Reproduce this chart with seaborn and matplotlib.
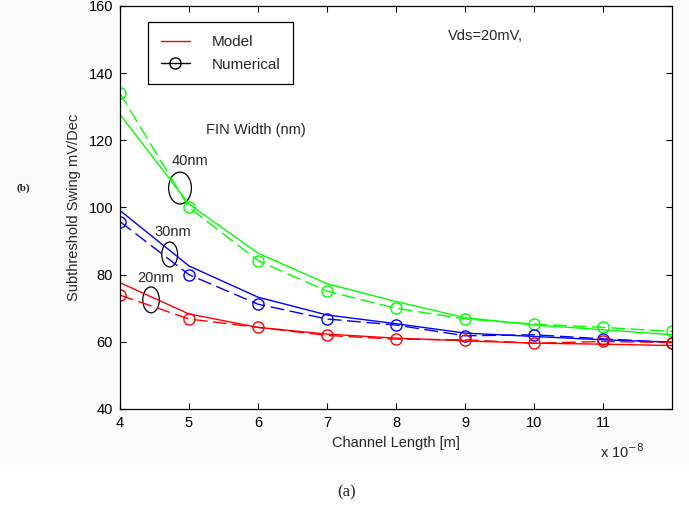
import matplotlib
matplotlib.use("Agg")
import matplotlib.pyplot as plt
from matplotlib.lines import Line2D
from matplotlib.patches import Ellipse, Rectangle
import numpy as np
import pandas as pd
import seaborn as sns

# ---- data (channel length in units of 1e-8 m) ----
length = [4, 5, 6, 7, 8, 9, 10, 11, 12]

model_40 = [127.7, 101.0, 86.4, 77.3, 72.0, 67.2, 65.0, 63.6, 62.1]
model_30 = [99.1, 82.6, 73.3, 68.0, 65.4, 62.6, 61.6, 60.6, 59.9]
model_20 = [77.6, 68.3, 64.3, 62.3, 61.1, 60.3, 59.6, 59.3, 58.9]

num_40 = [134.0, 100.0, 84.2, 75.1, 70.0, 66.8, 65.3, 64.3, 63.1]
num_30 = [95.8, 80.0, 71.2, 66.8, 65.0, 61.8, 62.1, 60.9, 59.8]
num_20 = [73.9, 66.8, 64.3, 61.9, 60.8, 60.6, 59.6, 60.1, 59.8]

series_names = ["40nm", "30nm", "20nm"]
series_colors = ["#00ff00", "#0000ff", "#ff0000"]

x_ticks = [4, 5, 6, 7, 8, 9, 10, 11]
y_ticks = [40, 60, 80, 100, 120, 140, 160]

sns.set_style("ticks")
plt.rcParams["font.family"] = ["Liberation Sans", "DejaVu Sans"]
FS = 10.5

fig = plt.figure(figsize=(6.89, 5.18), dpi=100)
fig.patch.set_facecolor("white")
fig.patches.append(Rectangle((0, 1 - 465 / 518), 1, 465 / 518, transform=fig.transFigure,
                             facecolor="#fbfbfb", edgecolor="none", zorder=-10))
ax = fig.add_axes([120 / 689, 1 - 409 / 518, 552 / 689, 403 / 518])
ax.set_facecolor("white")

models = [model_40, model_30, model_20]
nums = [num_40, num_30, num_20]
for name, col, m, n in zip(series_names, series_colors, models, nums):
    sns.lineplot(x=length, y=m, ax=ax, color=col, linewidth=1.0, legend=False)
    sns.lineplot(x=length, y=n, ax=ax, color=col, linewidth=1.0, legend=False,
                 linestyle=(0, (10, 4)), marker="o", markersize=8,
                 markerfacecolor="none", markeredgecolor=col, markeredgewidth=1.0)

ax.set_xlim(4, 12)
ax.set_ylim(40, 160)
ax.set_xticks(x_ticks)
ax.set_xticklabels([str(v) for v in x_ticks])
ax.set_yticks(y_ticks)
ax.set_yticklabels([str(v) for v in y_ticks])
ax.tick_params(direction="in", length=4, width=0.8, labelsize=FS, colors="black",
               top=True, right=True, pad=5)
for s in ax.spines.values():
    s.set_visible(True)
    s.set_linewidth(0.9)
    s.set_color("black")

ax.set_xlabel("Channel Length [m]", fontsize=FS, labelpad=4)
ax.set_ylabel("Subthreshold Swing mV/Dec", fontsize=FS, labelpad=5)

# legend
handles = [Line2D([0], [0], color="red", linewidth=1.0),
           Line2D([0], [0], color="black", linewidth=1.0, marker="o",
                  markerfacecolor="none", markersize=8)]
leg = ax.legend(handles, ["Model", "Numerical"], loc="upper left",
                bbox_to_anchor=(0.0507, 0.960), borderaxespad=0.0,
                frameon=True, fancybox=False,
                edgecolor="black", fontsize=11, handlelength=1.9,
                borderpad=0.85, labelspacing=0.55, handletextpad=1.4)
leg.get_frame().set_linewidth(0.9)
leg.get_frame().set_alpha(1)

# annotations
ax.text(5.25, 123, "FIN Width (nm)", fontsize=FS, ha="left", va="center")
ax.text(8.75, 151, "Vds=20mV,", fontsize=FS, ha="left", va="center")
ax.text(5.01, 113.9, "40nm", fontsize=FS, ha="center", va="center")
ax.text(4.77, 92.7, "30nm", fontsize=FS, ha="center", va="center")
ax.text(4.51, 79.0, "20nm", fontsize=FS, ha="center", va="center")
ax.add_patch(Ellipse((4.87, 105.8), 0.33, 9.5, fill=False, edgecolor="black", linewidth=0.9))
ax.add_patch(Ellipse((4.72, 86.0), 0.23, 7.4, fill=False, edgecolor="black", linewidth=0.9))
ax.add_patch(Ellipse((4.45, 72.5), 0.24, 7.7, fill=False, edgecolor="black", linewidth=0.9))

fig.text(600 / 689, 1 - 452 / 518, r"x 10$^{-8}$", fontsize=FS, ha="left", va="center")
fig.text(23 / 689, 1 - 188 / 518, "(b)", fontsize=8, fontweight="bold",
         family="Liberation Serif", ha="center", va="center")
fig.text(347 / 689, 1 - 492 / 518, "(a)", fontsize=12, family="Liberation Serif",
         ha="center", va="center")

fig.savefig("out.png", dpi=100, facecolor=fig.get_facecolor())
